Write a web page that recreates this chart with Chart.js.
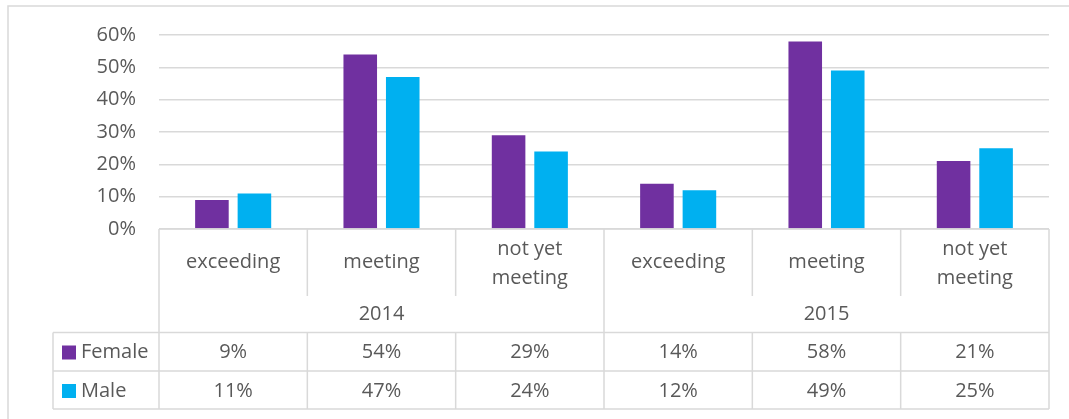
<!DOCTYPE html>
<html>
<head>
<meta charset="utf-8">
<script src="https://cdn.jsdelivr.net/npm/chart.js@4.4.0/dist/chart.umd.min.js"></script>
<style>
  html, body { margin: 0; padding: 0; background: #ffffff; }
  #wrap { width: 1069px; height: 419px; position: relative; }
</style>
</head>
<body>
<div id="wrap"><canvas id="c" width="1069" height="419"></canvas></div>
<script>
// ---- data ----
const categories = ["exceeding", "meeting", "not yet meeting", "exceeding", "meeting", "not yet meeting"];
const categoryLines = [["exceeding"], ["meeting"], ["not yet", "meeting"], ["exceeding"], ["meeting"], ["not yet", "meeting"]];
const groups = ["2014", "2015"];
const groupSize = 3;
const seriesNames = ["Female", "Male"];
const femaleValues = [9, 54, 29, 14, 58, 21];
const maleValues = [11, 47, 24, 12, 49, 25];
const yTickLabels = ["0%", "10%", "20%", "30%", "40%", "50%", "60%"];

const FONT = '"Open Sans", "Liberation Sans", sans-serif';
const FSIZE = 20;
const TEXT = '#595959';
const LINE = '#d9d9d9';
const COLORS = ['#7030A0', '#00B0F0'];
const seriesValues = [femaleValues, maleValues];

const bottomPlugin = {
  id: 'bottomTable',
  beforeDraw(chart) {
    const ctx = chart.ctx;
    ctx.save();
    ctx.fillStyle = '#ffffff';
    ctx.fillRect(0, 0, chart.width, chart.height);
    ctx.strokeStyle = LINE;
    ctx.lineWidth = 1.5;
    ctx.beginPath();
    ctx.moveTo(8, chart.height + 5);
    ctx.lineTo(8, 6);
    ctx.lineTo(chart.width + 5, 6);
    ctx.stroke();
    ctx.restore();
  },
  afterDraw(chart) {
    const ctx = chart.ctx;
    const xs = chart.scales.x;
    const area = chart.chartArea;
    const n = categories.length;
    const half = (xs.getPixelForTick(1) - xs.getPixelForTick(0)) / 2;
    const bx = i => (i < n ? xs.getPixelForTick(i) - half : xs.getPixelForTick(n - 1) + half);
    const axisY = area.bottom;
    const catBottom = axisY + 67;
    const tableTop = axisY + 103.5;
    const rowMid = axisY + 142;
    const tableBottom = axisY + 180;
    const tableLeft = 53;

    ctx.save();
    ctx.strokeStyle = LINE;
    ctx.lineWidth = 1.5;
    ctx.beginPath();
    ctx.moveTo(area.left, axisY); ctx.lineTo(area.right, axisY);
    for (let i = 0; i <= n; i++) {
      const x = bx(i);
      if (i % groupSize === 0) {
        ctx.moveTo(x, axisY); ctx.lineTo(x, tableBottom);
      } else {
        ctx.moveTo(x, axisY); ctx.lineTo(x, catBottom);
        ctx.moveTo(x, tableTop); ctx.lineTo(x, tableBottom);
      }
    }
    [tableTop, rowMid, tableBottom].forEach(y => {
      ctx.moveTo(tableLeft, y); ctx.lineTo(area.right, y);
    });
    ctx.moveTo(tableLeft, tableTop); ctx.lineTo(tableLeft, tableBottom);
    ctx.stroke();

    ctx.fillStyle = TEXT;
    ctx.font = FSIZE + 'px ' + FONT;
    ctx.textAlign = 'center';
    ctx.textBaseline = 'middle';
    for (let i = 0; i < n; i++) {
      const x = xs.getPixelForTick(i);
      const lines = categoryLines[i];
      if (lines.length === 1) {
        ctx.fillText(lines[0], x, axisY + 33.5);
      } else {
        ctx.fillText(lines[0], x, axisY + 20.5);
        ctx.fillText(lines[1], x, axisY + 49);
      }
    }
    groups.forEach((g, gi) => {
      const x = (bx(gi * groupSize) + bx((gi + 1) * groupSize)) / 2;
      ctx.fillText(g, x, axisY + 85.5);
    });
    const rowCenters = [axisY + 123.5, axisY + 162];
    seriesValues.forEach((vals, si) => {
      vals.forEach((v, i) => {
        ctx.fillText(v + '%', xs.getPixelForTick(i), rowCenters[si]);
      });
    });
    ctx.textAlign = 'left';
    seriesNames.forEach((name, si) => {
      ctx.fillStyle = COLORS[si];
      ctx.fillRect(62, rowCenters[si] - 7, 14, 14);
      ctx.fillStyle = TEXT;
      ctx.fillText(name, 81, rowCenters[si]);
    });
    ctx.restore();
  }
};

function draw() {
  new Chart(document.getElementById('c'), {
    type: 'bar',
    data: {
      labels: categories,
      datasets: seriesNames.map((name, si) => ({
        label: name,
        data: seriesValues[si],
        backgroundColor: COLORS[si],
        borderWidth: 0,
        categoryPercentage: 0.573,
        barPercentage: 0.79
      }))
    },
    options: {
      responsive: false,
      animation: false,
      devicePixelRatio: 1,
      layout: { padding: { left: 0, right: 20, top: 35, bottom: 190 } },
      plugins: { legend: { display: false }, tooltip: { enabled: false } },
      scales: {
        x: { display: false, offset: true },
        y: {
          min: 0, max: 60,
          border: { display: false },
          grid: { color: LINE, lineWidth: 1.5, drawTicks: false },
          ticks: {
            stepSize: 10,
            padding: 23,
            color: TEXT,
            font: { family: FONT, size: FSIZE },
            callback: (v, i) => yTickLabels[i]
          },
          afterFit: s => { s.width = 159; }
        }
      }
    },
    plugins: [bottomPlugin]
  });
}
if (document.fonts && document.fonts.load) {
  document.fonts.load(FSIZE + 'px "Open Sans"').then(draw, draw);
} else { draw(); }
</script>
</body>
</html>
